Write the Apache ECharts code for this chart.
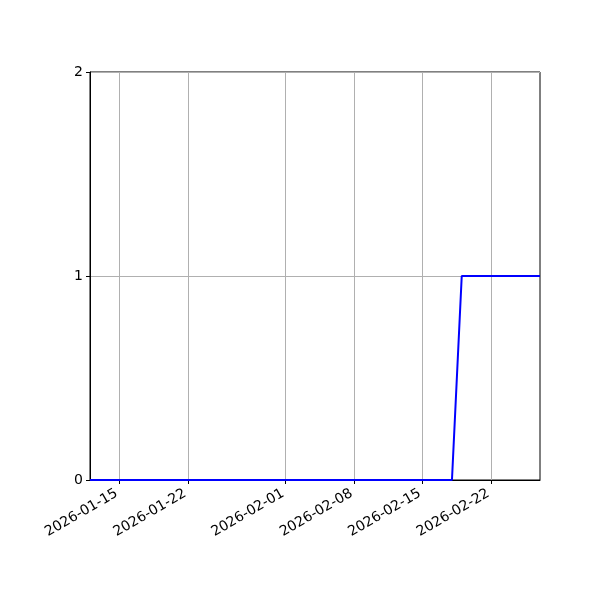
<!DOCTYPE html>
<html>
<head>
<meta charset="utf-8">
<script src="https://cdn.jsdelivr.net/npm/echarts@6/dist/echarts.min.js"></script>
<style>html,body{margin:0;padding:0;background:#fff}#c{width:600px;height:600px}</style>
</head>
<body>
<div id="c"></div>
<script>
const dates = [
  '2026-01-12','2026-01-13','2026-01-14','2026-01-15','2026-01-16','2026-01-17','2026-01-18',
  '2026-01-19','2026-01-20','2026-01-21','2026-01-22','2026-01-23','2026-01-24','2026-01-25',
  '2026-01-26','2026-01-27','2026-01-28','2026-01-29','2026-01-30','2026-01-31',
  '2026-02-01','2026-02-02','2026-02-03','2026-02-04','2026-02-05','2026-02-06','2026-02-07',
  '2026-02-08','2026-02-09','2026-02-10','2026-02-11','2026-02-12','2026-02-13','2026-02-14',
  '2026-02-15','2026-02-16','2026-02-17','2026-02-18','2026-02-19','2026-02-20','2026-02-21',
  '2026-02-22','2026-02-23','2026-02-24','2026-02-25','2026-02-26','2026-02-27'
];
const values = [
  0,0,0,0,0,0,0,
  0,0,0,0,0,0,0,
  0,0,0,0,0,0,
  0,0,0,0,0,0,0,
  0,0,0,0,0,0,0,
  0,0,0,0,1,1,1,
  1,1,1,1,1,1
];
const xTickLabels = ['2026-01-15','2026-01-22','2026-02-01','2026-02-08','2026-02-15','2026-02-22'];
const yTicks = [0, 1, 2];

const showTick = (i) => xTickLabels.indexOf(dates[i]) >= 0;
const font = 'DejaVu Sans';
const chart = echarts.init(document.getElementById('c'), null, {renderer: 'canvas'});
chart.setOption({
  animation: false,
  grid: {left: 90, right: 60, top: 72, bottom: 120, show: true, borderColor: '#000', borderWidth: 1, backgroundColor: 'transparent'},
  xAxis: {
    type: 'category',
    data: dates,
    boundaryGap: false,
    axisLine: {show: true, lineStyle: {color: '#000', width: 1}},
    axisTick: {show: true, interval: showTick, length: 4, lineStyle: {color: '#000', width: 1}},
    axisLabel: {interval: showTick, rotate: 30, color: '#000', fontFamily: font, fontSize: 14, margin: 11, padding: [0, 3, 0, 0]},
    splitLine: {show: true, interval: showTick, lineStyle: {color: '#b0b0b0', width: 1}}
  },
  yAxis: {
    type: 'value',
    min: yTicks[0], max: yTicks[yTicks.length - 1], interval: 1,
    axisLine: {show: true, lineStyle: {color: '#000', width: 1}},
    axisTick: {show: true, length: 4, lineStyle: {color: '#000', width: 1}},
    axisLabel: {color: '#000', fontFamily: font, fontSize: 14, margin: 7},
    splitLine: {show: true, lineStyle: {color: '#b0b0b0', width: 1}}
  },
  series: [{
    type: 'line',
    data: values,
    showSymbol: false,
    symbol: 'none',
    lineStyle: {color: '#0000ff', width: 2},
    itemStyle: {color: '#0000ff'}
  }]
});
</script>
</body>
</html>
